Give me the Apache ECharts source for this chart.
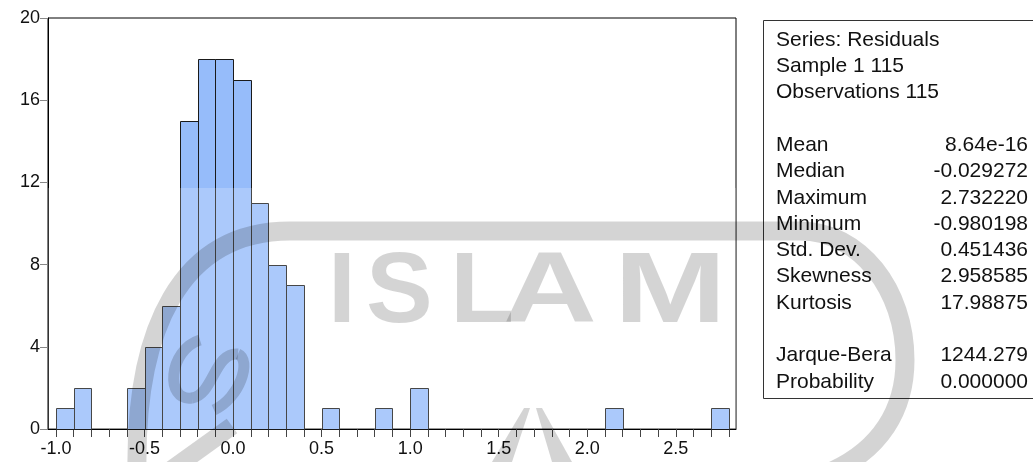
<!DOCTYPE html>
<html>
<head>
<meta charset="utf-8">
<script src="https://cdn.jsdelivr.net/npm/echarts@6/dist/echarts.min.js"></script>
<style>
html,body{margin:0;padding:0;background:#fff;}
#chart{width:1033px;height:462px;}
</style>
</head>
<body>
<div id="chart"></div>
<script>
// Histogram of residuals (bin width 0.1)
const binStarts = [-1.0, -0.9, -0.6, -0.5, -0.4, -0.3, -0.2, -0.1, 0.0, 0.1, 0.2, 0.3, 0.5, 0.8, 1.0, 2.1, 2.7];
const binCounts = [1, 2, 2, 4, 6, 15, 18, 18, 17, 11, 8, 7, 1, 1, 2, 1, 1];
const binWidth = 0.1;
const xTickValues = [-1.0,-0.9,-0.8,-0.7,-0.6,-0.5,-0.4,-0.3,-0.2,-0.1,0.0,0.1,0.2,0.3,0.4,0.5,0.6,0.7,0.8,0.9,1.0,1.1,1.2,1.3,1.4,1.5,1.6,1.7,1.8,1.9,2.0,2.1,2.2,2.3,2.4,2.5,2.6,2.7,2.8];
const xLabelValues = [-1.0, -0.5, 0.0, 0.5, 1.0, 1.5, 2.0, 2.5];
const yTicks = [0, 4, 8, 12, 16, 20];

const statHeader = ['Series: Residuals', 'Sample 1 115', 'Observations 115'];
const statLabels = ['Mean', 'Median', 'Maximum', 'Minimum', 'Std. Dev.', 'Skewness', 'Kurtosis'];
const statValues = ['8.64e-16', '-0.029272', '2.732220', '-0.980198', '0.451436', '2.958585', '17.98875'];
const testLabels = ['Jarque-Bera', 'Probability'];
const testValues = ['1244.279', '0.000000'];

const FONT = '"Liberation Sans", Arial, sans-serif';
const chart = echarts.init(document.getElementById('chart'), null, {renderer: 'canvas'});

const barData = binStarts.map((s, i) => [s, +(s + binWidth).toFixed(2), binCounts[i]]);

// stats box texts
const boxLeft = 763, boxTop = 20, boxBottom = 398;
const textX = 776, valueX = 1028, row0 = 40, rowH = 26.3;
const statEls = [];
statEls.push({type: 'rect', shape: {x: boxLeft + 0.5, y: boxTop + 0.5, width: 300, height: boxBottom - boxTop}, style: {fill: '#fff', stroke: '#333', lineWidth: 1}, z: 1});
function addRow(row, label, value) {
  statEls.push({type: 'text', x: textX, y: row0 + row * rowH, style: {text: label, font: '21px ' + FONT, fill: '#111', textAlign: 'left', textVerticalAlign: 'middle'}, z: 2});
  if (value !== undefined) {
    statEls.push({type: 'text', x: valueX, y: row0 + row * rowH, style: {text: value, font: '21px ' + FONT, fill: '#111', textAlign: 'right', textVerticalAlign: 'middle'}, z: 2});
  }
}
statHeader.forEach((t, i) => addRow(i, t));
statLabels.forEach((t, i) => addRow(4 + i, t, statValues[i]));
testLabels.forEach((t, i) => addRow(12 + i, t, testValues[i]));

// faint watermark approximation (decoration only)
const wm = 'rgba(0,0,0,0.17)';
function curve(x1, y1, cx1, cy1, cx2, cy2, x2, y2, w) {
  return {type: 'bezierCurve', shape: {x1: x1, y1: y1, cpx1: cx1, cpy1: cy1, cpx2: cx2, cpy2: cy2, x2: x2, y2: y2}, style: {fill: null, stroke: wm, lineWidth: w}, z: 50, silent: true};
}
const wmEls = [
  {type: 'rect', shape: {x: 48, y: 188, width: 688, height: 241}, style: {fill: 'rgba(255,255,255,0.2)'}, z: 49, silent: true},
  curve(137, 470, 135, 330, 180, 231, 290, 231, 19),
  {type: 'line', shape: {x1: 290, y1: 231, x2: 800, y2: 231}, style: {stroke: wm, lineWidth: 19}, z: 50, silent: true},
  curve(800, 231, 860, 231, 905, 290, 905, 360, 19),
  curve(905, 360, 905, 410, 880, 450, 830, 472, 19),
  curve(200, 340, 168, 350, 165, 402, 192, 398, 11),
  curve(192, 398, 214, 394, 214, 352, 238, 354, 11),
  curve(238, 354, 252, 360, 240, 398, 214, 410, 11),
  {type: 'line', shape: {x1: 168, y1: 472, x2: 232, y2: 426}, style: {stroke: wm, lineWidth: 18}, z: 50, silent: true},
  {type: 'polygon', shape: {points: [[492, 462], [524, 408], [530, 408], [512, 462]]}, style: {fill: wm}, z: 50, silent: true},
  {type: 'polygon', shape: {points: [[536, 408], [542, 408], [572, 462], [552, 462]]}, style: {fill: wm}, z: 50, silent: true}
];
[['I', 328, 1], ['S', 366, 1], ['L', 450, 1.05], ['A', 503, 1.3], ['M', 614, 1.35]].forEach(([ch, x, sx]) => {
  wmEls.push({type: 'text', x: x, y: 294, scaleX: sx, style: {text: ch, font: 'bold 100px ' + FONT, fill: wm, textVerticalAlign: 'middle'}, z: 50, silent: true});
});

chart.setOption({
  animation: false,
  backgroundColor: '#fff',
  grid: {left: 48, right: 297, top: 18, bottom: 33, show: true, borderColor: '#000', borderWidth: 1, backgroundColor: 'transparent'},
  xAxis: {
    type: 'value', min: -1.045, max: 2.84,
    axisLine: {show: true, onZero: false, lineStyle: {color: '#000', width: 1}},
    axisTick: {show: true, customValues: xTickValues, length: 8, inside: false, lineStyle: {color: '#444'}},
    axisLabel: {show: true, customValues: xLabelValues, formatter: v => v.toFixed(1), fontSize: 18, fontFamily: FONT, color: '#111', margin: 11},
    splitLine: {show: false}
  },
  yAxis: {
    type: 'value', min: 0, max: 20, interval: 4,
    axisLine: {show: true, onZero: false, lineStyle: {color: '#000', width: 1}},
    axisTick: {show: true, length: 8, lineStyle: {color: '#888'}},
    axisLabel: {fontSize: 18, fontFamily: FONT, color: '#111', margin: 8, formatter: v => yTicks.includes(v) ? String(v) : ''},
    splitLine: {show: false}
  },
  graphic: {elements: statEls.concat(wmEls)},
  series: [{
    type: 'custom',
    data: barData,
    encode: {x: [0, 1], y: 2},
    renderItem: function (params, api) {
      const p0 = api.coord([api.value(0), 0]);
      const p1 = api.coord([api.value(1), api.value(2)]);
      return {
        type: 'rect',
        shape: {x: Math.round(p0[0]) + 0.5, y: Math.round(p1[1]) + 0.5, width: Math.round(p1[0]) - Math.round(p0[0]), height: Math.round(p0[1]) - Math.round(p1[1])},
        style: {fill: '#96bcfa', stroke: '#1a1a1a', lineWidth: 1}
      };
    }
  }]
});
</script>
</body>
</html>
